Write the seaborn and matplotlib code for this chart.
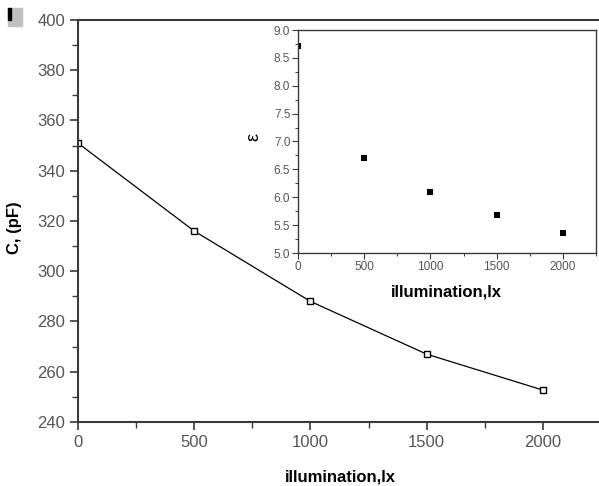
import matplotlib
matplotlib.use("Agg")
import matplotlib.pyplot as plt
from matplotlib.ticker import MultipleLocator
from matplotlib.patches import Rectangle
import seaborn as sns
import pandas as pd

# Data
illumination = [0, 500, 1000, 1500, 2000]
capacitance_pF = [351, 316, 288, 267, 252.7]
epsilon = [8.71, 6.70, 6.09, 5.68, 5.36]

sns.set_theme(style="white")
plt.rcParams['font.family'] = ['Liberation Sans', 'DejaVu Sans']

W, H = 599, 486
fig = plt.figure(figsize=(W / 100, H / 100), dpi=100)

df = pd.DataFrame({"x": illumination, "C": capacitance_pF, "eps": epsilon})

tick_col = "#555555"
spine_col = "#3a3a3a"

# Main axes
ax = fig.add_axes([78 / W, 1 - 422 / H, 523 / W, (422 - 20) / H])
sns.lineplot(data=df, x="x", y="C", ax=ax, color="black", linewidth=0.9,
             marker="s", markersize=4.5, markerfacecolor="white",
             markeredgecolor="black", markeredgewidth=1.0)
ax.set_xlim(0, 2250)
ax.set_ylim(240, 400)
ax.xaxis.set_major_locator(MultipleLocator(500))
ax.xaxis.set_minor_locator(MultipleLocator(250))
ax.yaxis.set_major_locator(MultipleLocator(20))
ax.yaxis.set_minor_locator(MultipleLocator(10))
ax.tick_params(axis="both", which="major", direction="out", length=6, width=1.2,
               color=spine_col, labelsize=12, labelcolor=tick_col, pad=3,
               bottom=True, left=True)
ax.tick_params(axis="both", which="minor", direction="out", length=4, width=1.0,
               color=spine_col, bottom=True, left=True)
for s in ["left", "bottom", "top"]:
    ax.spines[s].set_color(spine_col)
    ax.spines[s].set_linewidth(1.5)
ax.spines["right"].set_visible(False)
ax.set_xlabel("illumination,lx", fontsize=12, fontweight="bold", color="black")
ax.set_ylabel("C, (pF)", fontsize=12, fontweight="bold", color="black")
ax.xaxis.set_label_coords((340 - 78) / 523, -(477 - 422) / (422 - 20))
ax.yaxis.set_label_coords(-(78 - 14) / 523, (422 - 228) / (422 - 20))
ax.xaxis.label.set_va("center")
ax.yaxis.label.set_va("center")

# Inset axes
ax2 = fig.add_axes([298 / W, 1 - 253 / H, (596 - 298) / W, (253 - 30) / H])
sns.scatterplot(data=df, x="x", y="eps", ax=ax2, color="black", marker="s",
                s=20, linewidth=0, clip_on=True)
ax2.set_xlim(0, 2250)
ax2.set_ylim(5.0, 9.0)
ax2.xaxis.set_major_locator(MultipleLocator(500))
ax2.xaxis.set_minor_locator(MultipleLocator(250))
ax2.yaxis.set_major_locator(MultipleLocator(0.5))
ax2.yaxis.set_minor_locator(MultipleLocator(0.25))
ax2.tick_params(axis="both", which="major", direction="out", length=4, width=0.8,
                color=spine_col, labelsize=8.5, labelcolor=tick_col, pad=1.5,
                bottom=True, left=True)
ax2.tick_params(axis="both", which="minor", direction="out", length=2, width=0.7,
                color=spine_col, bottom=True, left=True)
for s in ax2.spines.values():
    s.set_color(spine_col)
    s.set_linewidth(1.0)
ax2.set_xlabel("illumination,lx", fontsize=12, fontweight="bold", color="black")
ax2.set_ylabel("ε", fontsize=13, color="black")
ax2.xaxis.set_label_coords((446 - 298) / 298, -(292 - 253) / 223)
ax2.yaxis.set_label_coords(-(298 - 254) / 298, (253 - 137) / 223)
ax2.xaxis.label.set_va("center")
ax2.yaxis.label.set_va("center")

# small artifact at top-left
fig.patches.append(Rectangle((8 / W, 1 - 26 / H), 14 / W, 18 / H,
                             transform=fig.transFigure, color="#c0c0c0", zorder=0))
fig.patches.append(Rectangle((8 / W, 1 - 20 / H), 2.5 / W, 12 / H,
                             transform=fig.transFigure, color="black", zorder=1))

fig.savefig("out.png", dpi=100, facecolor="white")
